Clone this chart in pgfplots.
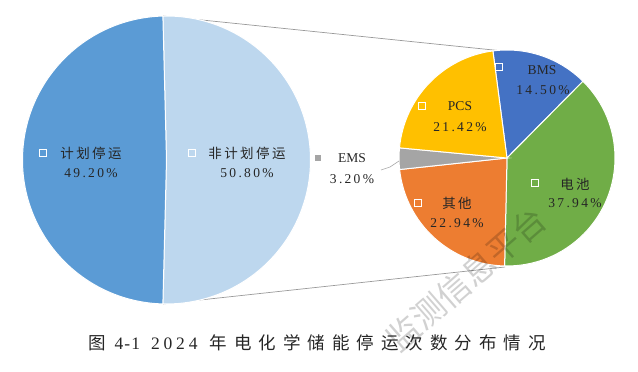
\documentclass[border=0pt]{standalone}
\usepackage{pgfplots}
\pgfplotsset{compat=1.18}
\usepackage{fontspec}
\setmainfont{Liberation Serif}
\newfontfamily\cjk[LetterSpace=18]{Noto Sans CJK SC}
\newfontfamily\capcjk[LetterSpace=40]{Noto Sans CJK SC}
\newfontfamily\num[LetterSpace=17]{Liberation Serif}
\newfontfamily\capnum[LetterSpace=22]{Liberation Serif}
\newfontfamily\wm{Noto Sans CJK SC}
\definecolor{plan}{HTML}{5B9BD5}
\definecolor{unplan}{HTML}{BDD7EE}
\definecolor{bms}{HTML}{4472C4}
\definecolor{bat}{HTML}{70AD47}
\definecolor{oth}{HTML}{ED7D31}
\definecolor{ems}{HTML}{A5A5A5}
\definecolor{pcs}{HTML}{FFC000}
\definecolor{txt}{HTML}{262626}
% pie data (percent / colour)
\def\bigdata{50.80/unplan, 49.20/plan}
\def\smalldata{14.50/bms, 37.94/bat, 22.94/oth, 3.20/ems, 21.42/pcs}
\begin{document}
\begin{tikzpicture}
\begin{axis}[
  x=1pt, y=1pt, xmin=0, xmax=638, ymin=0, ymax=372,
  hide axis, clip=false, disabledatascaling,
]
\path (axis cs:0,0) rectangle (axis cs:638,372);
% connector lines
\addplot[gray!80, line width=0.7pt] coordinates {(163,356) (503,321)};
\addplot[gray!80, line width=0.7pt] coordinates {(163,68) (505,105)};
% big pie (split slice centred on the horizontal axis)
\pgfmathsetmacro\acc{91.44}
\foreach \v/\c in \bigdata {
  \pgfmathsetmacro\a{\acc}
  \pgfmathsetmacro\b{\acc-3.6*\v}
  \edef\doit{\noexpand\fill[\c, draw=white, line width=1pt] (axis cs:166.5,212) -- ++(\a:144pt) arc[start angle=\a, end angle=\b, radius=144pt] -- cycle;}
  \doit
  \global\let\acc\b
}
% small pie
\pgfmathsetmacro\acc{97.5}
\foreach \v/\c in \smalldata {
  \pgfmathsetmacro\a{\acc}
  \pgfmathsetmacro\b{\acc-3.6*\v}
  \edef\doit{\noexpand\fill[\c, draw=white, line width=1pt] (axis cs:507,214) -- ++(\a:108pt) arc[start angle=\a, end angle=\b, radius=108pt] -- cycle;}
  \doit
  \global\let\acc\b
}
% EMS leader
\addplot[gray!70, line width=0.6pt] coordinates {(381,202) (390,205) (399,211)};
% label markers
\tikzset{mk/.style={draw=white, line width=0.9pt, minimum size=6.5pt, inner sep=0pt}}
\node[mk] at (axis cs:43,219) {};
\node[mk] at (axis cs:192,219) {};
\node[mk] at (axis cs:499,305) {};
\node[mk] at (axis cs:422,266) {};
\node[mk] at (axis cs:535,189) {};
\node[mk] at (axis cs:418,169) {};
\node[fill=ems, minimum size=6.5pt, inner sep=0pt] at (axis cs:318,214) {};
% labels
\tikzset{lb/.style={text=txt, font=\fontsize{13.5}{15}\selectfont, inner sep=0pt}}
\node[lb] at (axis cs:91,219) {\cjk 计划停运};
\node[lb] at (axis cs:91,199) {\num 49.20\%};
\node[lb] at (axis cs:247,219) {\cjk 非计划停运};
\node[lb] at (axis cs:247,199) {\num 50.80\%};
\node[lb] at (axis cs:542,302) {BMS};
\node[lb] at (axis cs:543,282) {\num 14.50\%};
\node[lb] at (axis cs:460,266) {PCS};
\node[lb] at (axis cs:460,245) {\num 21.42\%};
\node[lb] at (axis cs:575,188) {\cjk 电池};
\node[lb] at (axis cs:575,169) {\num 37.94\%};
\node[lb] at (axis cs:457,169) {\cjk 其他};
\node[lb] at (axis cs:457,149) {\num 22.94\%};
\node[lb] at (axis cs:352,214) {EMS};
\node[lb] at (axis cs:352,193) {\num 3.20\%};
% watermark
\node[text=black, opacity=0.18, rotate=41, inner sep=0pt, font=\fontsize{33}{36}\selectfont\wm] at (axis cs:466,93) {监测信息平台};
% caption
\node[text=txt, inner sep=0pt, anchor=west, font=\fontsize{17.5}{20}\selectfont] at (axis cs:88,29) {\capcjk 图\kern9pt{\capnum 4\kern1pt-\kern1pt1\kern11pt 2024}\kern12pt 年电化学储能停运次数分布情况};
\end{axis}
\end{tikzpicture}
\end{document}
